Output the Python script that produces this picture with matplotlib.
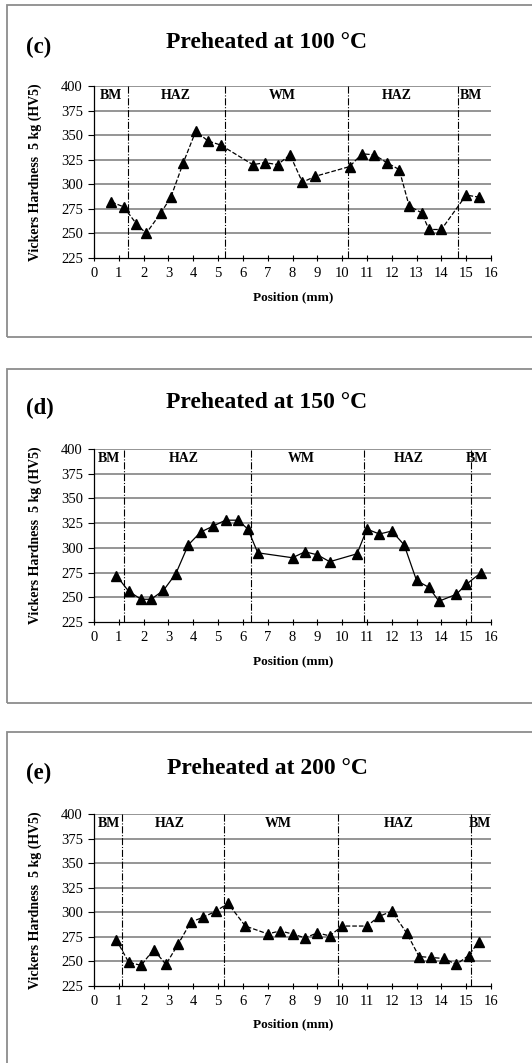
import matplotlib.pyplot as plt
from matplotlib.patches import Rectangle

plt.rcParams['font.family'] = ['Liberation Serif', 'DejaVu Serif']

# --- データ (位置 mm, 硬さ HV5) ---
pos_100 = [0.7, 1.2, 1.7, 2.1, 2.7, 3.1, 3.6, 4.1, 4.6, 5.1, 6.4, 6.9, 7.4, 7.9,
           8.4, 8.9, 10.3, 10.8, 11.3, 11.8, 12.3, 12.7, 13.2, 13.5, 14.0, 15.0, 15.5]
hv_100 = [282, 277, 260, 250, 271, 287, 322, 354, 344, 340, 320, 322, 320, 330,
          302, 308, 318, 331, 330, 322, 315, 278, 271, 254, 254, 289, 287]
zones_100 = [1.39, 5.26, 10.24, 14.68]
zone_lbl_100 = [0.69, 3.3, 7.57, 12.2, 15.2]

pos_150 = [0.9, 1.4, 1.9, 2.3, 2.8, 3.3, 3.8, 4.3, 4.8, 5.3, 5.8, 6.2, 6.6, 8.0,
           8.5, 9.0, 9.5, 10.6, 11.0, 11.5, 12.0, 12.5, 13.0, 13.5, 13.9, 14.6, 15.0, 15.6]
hv_150 = [272, 256, 248, 248, 257, 274, 303, 316, 322, 328, 328, 319, 295, 290,
          296, 293, 286, 294, 319, 314, 317, 303, 267, 260, 246, 253, 263, 275]
zones_150 = [1.21, 6.34, 10.87, 15.21]
zone_lbl_150 = [0.62, 3.6, 8.35, 12.7, 15.45]

pos_200 = [0.9, 1.4, 1.9, 2.4, 2.9, 3.4, 3.9, 4.4, 4.9, 5.4, 6.1, 7.0, 7.5, 8.0,
           8.5, 9.0, 9.5, 10.0, 11.0, 11.5, 12.0, 12.6, 13.1, 13.6, 14.1, 14.6, 15.1, 15.5]
hv_200 = [272, 249, 246, 262, 247, 268, 290, 295, 301, 309, 286, 278, 281, 278,
          274, 279, 276, 286, 286, 296, 301, 279, 255, 254, 253, 247, 256, 270]
zones_200 = [1.14, 5.23, 9.85, 15.2]
zone_lbl_200 = [0.62, 3.06, 7.41, 12.3, 15.55]

zone_names = ['BM', 'HAZ', 'WM', 'HAZ', 'BM']
panels = [
    ('(c)', 'Preheated at 100 °C', pos_100, hv_100, zones_100, zone_lbl_100, '--'),
    ('(d)', 'Preheated at 150 °C', pos_150, hv_150, zones_150, zone_lbl_150, '-'),
    ('(e)', 'Preheated at 200 °C', pos_200, hv_200, zones_200, zone_lbl_200, '--'),
]

W, H = 532, 1063
fig = plt.figure(figsize=(W / 100, H / 100), dpi=100)

# 各パネルの配置 (ピクセル, 上端基準)
boxes = [(5, 337), (369, 703), (732, 1080)]
ax_rows = [(86, 258), (449, 622), (814, 986)]
title_y = [42, 403, 768]
xlabel_y = [297, 661, 1024]

for i, (tag, title, xs, ys, zones, zlbl, ls) in enumerate(panels):
    top, bot = boxes[i]
    fig.add_artist(Rectangle((7 / W, 1 - bot / H), 540 / W, (bot - top) / H,
                             transform=fig.transFigure, fill=False,
                             edgecolor='#8c8c8c', linewidth=1.3))

    at, ab = ax_rows[i]
    ax = fig.add_axes([94 / W, 1 - ab / H, (491 - 94) / W, (ab - at) / H])
    for y in range(250, 401, 25):
        ax.axhline(y, color='#8c8c8c', linewidth=1.3, zorder=0)
    for z in zones:
        ax.axvline(z, color='black', linewidth=0.8, linestyle='-.', zorder=1)
    ax.plot(xs, ys, color='black', linestyle=ls, linewidth=0.9,
            marker='^', markersize=7.5, zorder=3)
    for name, xl in zip(zone_names, zlbl):
        ax.text(xl, 390, name, ha='center', va='center',
                fontsize=10, fontweight='bold')

    ax.set_xlim(0, 16)
    ax.set_ylim(225, 400)
    ax.set_xticks(range(0, 17))
    ax.set_yticks(range(225, 401, 25))
    ax.tick_params(axis='y', labelsize=10.5, length=4, width=0.8, direction='out', pad=4)
    ax.tick_params(axis='x', labelsize=10.5, length=5, width=0.8, direction='inout', pad=4)
    ax.spines['top'].set_visible(False)
    ax.spines['right'].set_visible(False)
    ax.spines['left'].set_linewidth(0.9)
    ax.spines['bottom'].set_linewidth(0.9)

    fig.text(35 / W, 1 - (at + ab) / 2 / H, 'Vickers Hardness  5 kg (HV5)',
             rotation=90, ha='center', va='center', fontsize=10, fontweight='bold')
    fig.text(293 / W, 1 - xlabel_y[i] / H, 'Position (mm)',
             ha='center', va='center', fontsize=9.5, fontweight='bold')
    fig.text(267 / W, 1 - title_y[i] / H, title, ha='center', va='center',
             fontsize=17, fontweight='bold')
    fig.text(26 / W, 1 - (title_y[i] + 5) / H, tag, ha='left', va='center',
             fontsize=16.5, fontweight='bold')

fig.savefig('out.png', dpi=100)
